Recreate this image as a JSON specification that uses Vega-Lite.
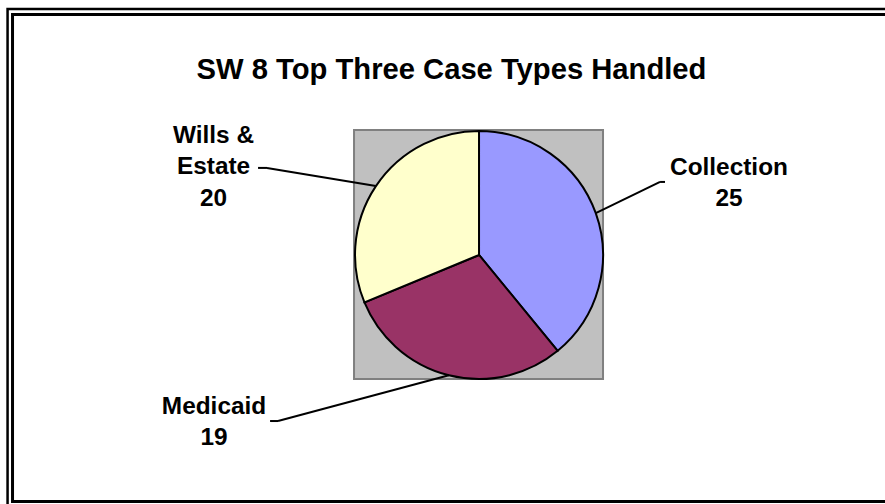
{
  "$schema": "https://vega.github.io/schema/vega-lite/v6.json",
  "width": 885,
  "height": 504,
  "autosize": {"type": "none"},
  "padding": 0,
  "background": "white",
  "config": {"view": {"stroke": null}, "text": {"font": "Liberation Sans", "fontWeight": "bold", "color": "black"}},
  "data": {"values": [
    {"case": "Collection", "count": 25},
    {"case": "Medicaid", "count": 19},
    {"case": "Wills & Estate", "count": 20}
  ]},
  "transform": [
    {"joinaggregate": [{"op": "sum", "field": "count", "as": "total"}]},
    {"window": [{"op": "sum", "field": "count", "as": "cum"}], "sort": [{"field": "case"}], "frame": [null, 0]},
    {"calculate": "2*PI*(datum.cum - datum.count/2)/datum.total", "as": "mid"},
    {"calculate": "sin(datum.mid)", "as": "ex"},
    {"calculate": "cos(datum.mid)", "as": "ey"},
    {"calculate": "replace(datum.case, '& ', '&\\n') + '\\n' + datum.count", "as": "lab"}
  ],
  "layer": [
    {
      "data": {"values": [{}]},
      "mark": {"type": "rect", "fill": null, "stroke": "black", "strokeWidth": 2.5},
      "encoding": {
        "x": {"datum": -3.802, "type": "quantitative", "scale": {"domain": [-3.863, 3.274], "nice": false, "zero": false}, "axis": null},
        "x2": {"datum": 3.4},
        "y": {"datum": 1.984, "type": "quantitative", "scale": {"domain": [-2.008, 2.056], "nice": false, "zero": false}, "axis": null},
        "y2": {"datum": -2.06}
      }
    },
    {
      "data": {"values": [{}]},
      "mark": {"type": "rect", "fill": null, "stroke": "black", "strokeWidth": 3},
      "encoding": {
        "x": {"datum": -3.762, "type": "quantitative"},
        "x2": {"datum": 3.4},
        "y": {"datum": 1.94, "type": "quantitative"},
        "y2": {"datum": -1.988}
      }
    },
    {
      "data": {"values": [{}]},
      "mark": {"type": "rect", "fill": "#C0C0C0", "stroke": "#808080", "strokeWidth": 2},
      "encoding": {
        "x": {"datum": -1.008, "type": "quantitative"},
        "x2": {"datum": 1.0},
        "y": {"datum": 1.008, "type": "quantitative"},
        "y2": {"datum": -1.0}
      }
    },
    {
      "mark": {"type": "arc", "outerRadius": 124, "stroke": "black", "strokeWidth": 2},
      "encoding": {
        "x": {"datum": 0, "type": "quantitative"},
        "y": {"datum": 0, "type": "quantitative"},
        "theta": {"field": "count", "type": "quantitative"},
        "color": {"field": "case", "type": "nominal", "legend": null,
          "scale": {"domain": ["Collection", "Medicaid", "Wills & Estate"], "range": ["#9999FF", "#993366", "#FFFFCC"]}}
      }
    },
    {
      "transform": [{"filter": "datum.case == 'Collection'"}],
      "mark": {"type": "rule", "stroke": "black", "strokeWidth": 2},
      "encoding": {
        "x": {"field": "ex", "type": "quantitative"},
        "y": {"field": "ey", "type": "quantitative"},
        "x2": {"datum": 1.46},
        "y2": {"datum": 0.589}
      }
    },
    {
      "transform": [{"filter": "datum.case == 'Medicaid'"}],
      "mark": {"type": "rule", "stroke": "black", "strokeWidth": 2},
      "encoding": {
        "x": {"field": "ex", "type": "quantitative"},
        "y": {"field": "ey", "type": "quantitative"},
        "x2": {"datum": -1.621},
        "y2": {"datum": -1.339}
      }
    },
    {
      "transform": [{"filter": "datum.case == 'Wills & Estate'"}],
      "mark": {"type": "rule", "stroke": "black", "strokeWidth": 2},
      "encoding": {
        "x": {"field": "ex", "type": "quantitative"},
        "y": {"field": "ey", "type": "quantitative"},
        "x2": {"datum": -1.71},
        "y2": {"datum": 0.702}
      }
    },
    {
      "data": {"values": [{}]},
      "mark": {"type": "rule", "stroke": "black", "strokeWidth": 2},
      "encoding": {
        "x": {"datum": 1.46, "type": "quantitative"},
        "x2": {"datum": 1.5},
        "y": {"datum": 0.589, "type": "quantitative"}
      }
    },
    {
      "data": {"values": [{}]},
      "mark": {"type": "rule", "stroke": "black", "strokeWidth": 2},
      "encoding": {
        "x": {"datum": -1.685, "type": "quantitative"},
        "x2": {"datum": -1.621},
        "y": {"datum": -1.339, "type": "quantitative"}
      }
    },
    {
      "data": {"values": [{}]},
      "mark": {"type": "rule", "stroke": "black", "strokeWidth": 2},
      "encoding": {
        "x": {"datum": -1.782, "type": "quantitative"},
        "x2": {"datum": -1.71},
        "y": {"datum": 0.702, "type": "quantitative"}
      }
    },
    {
      "transform": [{"filter": "datum.case == 'Collection'"}],
      "mark": {"type": "text", "fontSize": 24.4, "lineBreak": "\n", "lineHeight": 31.5, "align": "center", "baseline": "alphabetic"},
      "encoding": {
        "x": {"datum": 2.016, "type": "quantitative"},
        "y": {"datum": 0.645, "type": "quantitative"},
        "text": {"field": "lab", "type": "nominal"}
      }
    },
    {
      "transform": [{"filter": "datum.case == 'Medicaid'"}],
      "mark": {"type": "text", "fontSize": 24.4, "lineBreak": "\n", "lineHeight": 31.5, "align": "center", "baseline": "alphabetic"},
      "encoding": {
        "x": {"datum": -2.137, "type": "quantitative"},
        "y": {"datum": -1.282, "type": "quantitative"},
        "text": {"field": "lab", "type": "nominal"}
      }
    },
    {
      "transform": [{"filter": "datum.case == 'Wills & Estate'"}],
      "mark": {"type": "text", "fontSize": 24.4, "lineBreak": "\n", "lineHeight": 31.5, "align": "center", "baseline": "alphabetic"},
      "encoding": {
        "x": {"datum": -2.141, "type": "quantitative"},
        "y": {"datum": 0.903, "type": "quantitative"},
        "text": {"field": "lab", "type": "nominal"}
      }
    },
    {
      "data": {"values": [{"title": "SW 8 Top Three Case Types Handled"}]},
      "mark": {"type": "text", "fontSize": 29.2, "align": "center", "baseline": "alphabetic"},
      "encoding": {
        "x": {"datum": -0.222, "type": "quantitative"},
        "y": {"datum": 1.419, "type": "quantitative"},
        "text": {"field": "title", "type": "nominal"}
      }
    }
  ]
}
